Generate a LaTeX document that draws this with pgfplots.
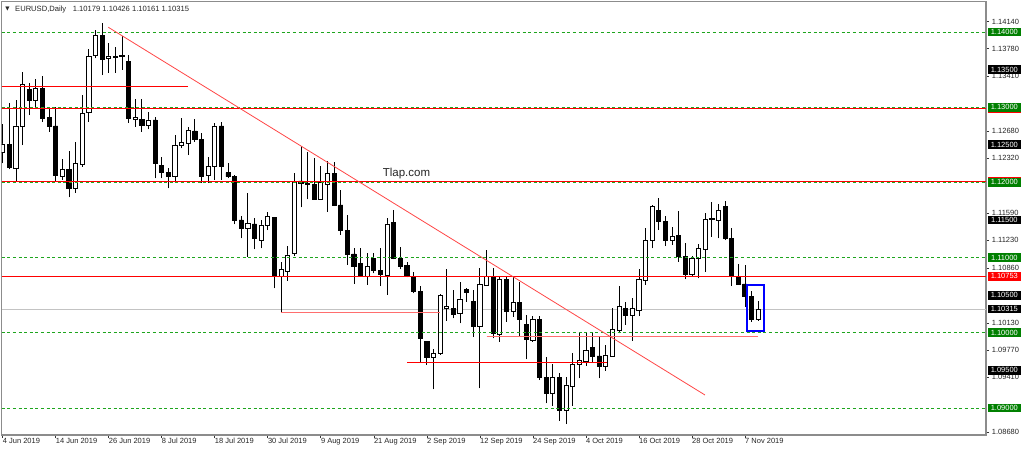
\documentclass[border=0pt]{standalone}
\usepackage{fontspec}
\setmainfont{Liberation Sans}
\newfontfamily\dejavu{DejaVu Sans}
\usepackage{pgfplots}
\pgfplotsset{compat=1.18}
\usepackage{pgfplotstable}

\definecolor{mtgreen}{RGB}{0,128,0}
\definecolor{lvlgreen}{RGB}{30,165,30}
\definecolor{framegray}{RGB}{140,140,140}
\definecolor{curgray}{RGB}{195,195,195}
\definecolor{trendred}{RGB}{255,70,70}
\definecolor{pinkred}{RGB}{255,110,110}

\pgfplotstableread{
i o h l c
0 1.12395 1.12777 1.12254 1.12511
1 1.12506 1.13060 1.12174 1.12196
2 1.12187 1.13096 1.12010 1.12750
3 1.12741 1.13473 1.12497 1.13304
4 1.13238 1.13317 1.12896 1.13096
5 1.13096 1.13371 1.12998 1.13251
6 1.13251 1.13415 1.12808 1.12852
7 1.12861 1.12985 1.12675 1.12741
8 1.12750 1.12998 1.12010 1.12098
9 1.12085 1.12307 1.12032 1.12174
10 1.12174 1.12422 1.11801 1.11921
11 1.11921 1.12542 1.11864 1.12254
12 1.12240 1.13162 1.12209 1.12918
13 1.12927 1.13770 1.12808 1.13672
14 1.13694 1.14027 1.13650 1.13960
15 1.13960 1.14115 1.13428 1.13637
16 1.13650 1.13849 1.13459 1.13681
17 1.13668 1.13805 1.13459 1.13676
18 1.13690 1.13947 1.13495 1.13672
19 1.13614 1.13694 1.12794 1.12852
20 1.12843 1.13105 1.12741 1.12861
21 1.12843 1.13105 1.12675 1.12763
22 1.12763 1.12941 1.12706 1.12830
23 1.12830 1.12874 1.12054 1.12254
24 1.12231 1.12342 1.12054 1.12129
25 1.12129 1.12187 1.11921 1.12076
26 1.12076 1.12630 1.12010 1.12497
27 1.12493 1.12852 1.12453 1.12528
28 1.12520 1.12741 1.12364 1.12688
29 1.12684 1.12839 1.12542 1.12573
30 1.12573 1.12653 1.11996 1.12085
31 1.12098 1.12333 1.11996 1.12218
32 1.12218 1.12794 1.12032 1.12750
33 1.12750 1.12808 1.12032 1.12209
34 1.12129 1.12254 1.12054 1.12076
35 1.12076 1.12098 1.11442 1.11500
36 1.11500 1.11553 1.11256 1.11389
37 1.11389 1.11864 1.11010 1.11456
38 1.11447 1.11522 1.11110 1.11256
39 1.11234 1.11500 1.11123 1.11434
40 1.11434 1.11611 1.11367 1.11544
41 1.11535 1.11544 1.10591 1.10746
42 1.10746 1.10946 1.10268 1.10844
43 1.10813 1.11154 1.10693 1.11035
44 1.11057 1.12121 1.11021 1.12010
45 1.12019 1.12484 1.11668 1.11988
46 1.11988 1.12409 1.11775 1.11974
47 1.11974 1.12320 1.11766 1.11779
48 1.11775 1.12218 1.11766 1.11996
49 1.11974 1.12289 1.11611 1.12121
50 1.12121 1.12276 1.11686 1.11700
51 1.11700 1.11899 1.11301 1.11367
52 1.11367 1.11567 1.10902 1.11048
53 1.11048 1.11123 1.10649 1.10879
54 1.10924 1.11123 1.10746 1.10755
55 1.10755 1.11057 1.10636 1.10879
56 1.10990 1.11057 1.10791 1.10826
57 1.10826 1.11123 1.10622 1.10782
58 1.10769 1.11522 1.10503 1.11447
59 1.11469 1.11633 1.10977 1.10990
60 1.10990 1.11145 1.10844 1.10888
61 1.10893 1.10946 1.10738 1.10755
62 1.10755 1.10813 1.10525 1.10547
63 1.10547 1.10622 1.09616 1.09926
64 1.09882 1.09895 1.09572 1.09674
65 1.09674 1.09780 1.09248 1.09727
66 1.09727 1.10516 1.09705 1.10494
67 1.10325 1.10844 1.10161 1.10348
68 1.10325 1.10569 1.10192 1.10246
69 1.10259 1.10671 1.10126 1.10450
70 1.10578 1.10591 1.10414 1.10543
71 1.10414 1.10569 1.09949 1.10090
72 1.10090 1.10866 1.09262 1.10645
73 1.10636 1.11101 1.10636 1.10746
74 1.10733 1.10857 1.09926 1.09993
75 1.09980 1.10746 1.09882 1.10711
76 1.10711 1.10746 1.10148 1.10281
77 1.10281 1.10746 1.10215 1.10401
78 1.10401 1.10680 1.09949 1.10179
79 1.10117 1.10237 1.09647 1.09913
80 1.09904 1.10223 1.09882 1.10179
81 1.10179 1.10223 1.09372 1.09408
82 1.09408 1.09674 1.09062 1.09195
83 1.09195 1.09585 1.09027 1.09408
84 1.09408 1.09470 1.08832 1.08973
85 1.08965 1.09417 1.08787 1.09306
86 1.09293 1.09736 1.09027 1.09585
87 1.09585 1.09993 1.09395 1.09629
88 1.09616 1.09993 1.09559 1.09762
89 1.09802 1.09993 1.09616 1.09692
90 1.09692 1.09957 1.09395 1.09559
91 1.09550 1.09838 1.09496 1.09705
92 1.09692 1.10325 1.09683 1.10046
93 1.10037 1.10622 1.09993 1.10348
94 1.10325 1.10414 1.10104 1.10237
95 1.10237 1.10458 1.09895 1.10325
96 1.10303 1.10844 1.10223 1.10711
97 1.10702 1.11389 1.10636 1.11234
98 1.11234 1.11700 1.11123 1.11686
99 1.11624 1.11788 1.11367 1.11478
100 1.11478 1.11553 1.11154 1.11234
101 1.11234 1.11411 1.11168 1.11287
102 1.11292 1.11624 1.10946 1.11021
103 1.11021 1.11190 1.10711 1.10782
104 1.10782 1.11021 1.10746 1.10990
105 1.10990 1.11181 1.10724 1.11123
106 1.11110 1.11589 1.10813 1.11509
107 1.11522 1.11744 1.11278 1.11509
108 1.11500 1.11713 1.11256 1.11624
109 1.11686 1.11757 1.11234 1.11256
110 1.11256 1.11389 1.10622 1.10746
111 1.10746 1.10915 1.10636 1.10649
112 1.10649 1.10902 1.10348 1.10489
113 1.10489 1.10556 1.10148 1.10179
114 1.10179 1.10426 1.10161 1.10315
}\candles

\tikzset{
  pbox/.style={anchor=west, inner sep=0pt, minimum width=33.7bp, minimum height=8.7bp,
    text=white, font=\fontsize{7.5bp}{9bp}\selectfont},
}

\begin{document}
\begin{tikzpicture}
\path[use as bounding box, fill=white] (0,0) rectangle (1024bp,452bp);
\begin{axis}[
  at={(1.7bp,17bp)}, anchor=south west,
  width=984.3bp, height=433.3bp, scale only axis,
  xmin=-0.151, xmax=148.36, ymin=1.08641, ymax=1.14403,
  axis line style={draw=framegray, line width=1.4bp},
  xtick={0,8,...,112},
  xticklabels={4 Jun 2019,14 Jun 2019,26 Jun 2019,8 Jul 2019,18 Jul 2019,30 Jul 2019,9 Aug 2019,21 Aug 2019,2 Sep 2019,12 Sep 2019,24 Sep 2019,4 Oct 2019,16 Oct 2019,28 Oct 2019,7 Nov 2019},
  ytick={1.0868,1.0941,1.0977,1.1013,1.1086,1.1123,1.1159,1.1232,1.1268,1.1341,1.1378,1.1414},
  yticklabels={1.08680,1.09410,1.09770,1.10130,1.10860,1.11230,1.11590,1.12320,1.12680,1.13410,1.13780,1.14140},
  xtick pos=bottom, ytick pos=right, yticklabel pos=right,
  tick align=outside, major tick length=3bp,
  tick style={draw=black!80, line width=0.7bp},
  xticklabel style={anchor=base west, inner sep=0pt, yshift=-5.9bp, text=black!85,
    font=\fontsize{7.5bp}{9bp}\selectfont},
  yticklabel style={anchor=west, inner sep=0pt, xshift=2.7bp, text=black!85,
    font=\fontsize{7.5bp}{9bp}\selectfont},
  clip=true,
]
% current price line
\addplot[curgray, line width=0.9bp] coordinates {(-0.151,1.10315) (148.36,1.10315)};

% candles
\pgfplotstablegetrowsof{\candles}
\pgfmathtruncatemacro{\nlast}{\pgfplotsretval-1}
\pgfplotsforeachungrouped \rowi in {0,...,\nlast}{%
  \pgfplotstablegetelem{\rowi}{i}\of\candles \let\cX\pgfplotsretval
  \pgfplotstablegetelem{\rowi}{o}\of\candles \let\cO\pgfplotsretval
  \pgfplotstablegetelem{\rowi}{h}\of\candles \let\cH\pgfplotsretval
  \pgfplotstablegetelem{\rowi}{l}\of\candles \let\cL\pgfplotsretval
  \pgfplotstablegetelem{\rowi}{c}\of\candles \let\cC\pgfplotsretval
  \ifdim\cC pt>\cO pt
    \let\cLo\cO \let\cHi\cC \def\cF{white}%
  \else
    \let\cLo\cC \let\cHi\cO \def\cF{black}%
  \fi
  \pgfmathsetmacro{\xa}{\cX-0.315}%
  \pgfmathsetmacro{\xb}{\cX+0.315}%
  \edef\doit{\noexpand\addplot[black, line width=0.9bp] coordinates {(\cX,\cL) (\cX,\cH)};
    \noexpand\addplot[draw=black, fill=\cF, line width=0.9bp, line join=miter]
    coordinates {(\xa,\cLo) (\xb,\cLo) (\xb,\cHi) (\xa,\cHi) (\xa,\cLo) (\xb,\cLo)};}%
  \doit
}

% green dashed round levels
\foreach \lv in {1.14,1.13,1.12,1.11,1.10,1.09}{
  \edef\doit{\noexpand\addplot[lvlgreen, line width=0.9bp, dash pattern=on 3bp off 2.6bp]
    coordinates {(-0.151,\lv) (148.36,\lv)};}
  \doit
}
% red full-width levels
\addplot[red, line width=0.9bp] coordinates {(-0.151,1.12985) (148.36,1.12985)};
\addplot[red, line width=0.9bp] coordinates {(-0.151,1.12015) (148.36,1.12015)};
\addplot[red, line width=0.9bp] coordinates {(-0.151,1.10753) (148.36,1.10753)};
% red segments
\addplot[red, line width=0.9bp] coordinates {(-0.151,1.13273) (27.96,1.13273)};
\addplot[pinkred, line width=1.5bp] coordinates {(42,1.10268) (66,1.10268)};
\addplot[red, line width=0.9bp] coordinates {(61,1.09603) (91.2,1.09603)};
\addplot[pinkred, line width=1.5bp] coordinates {(73,1.09949) (113.9,1.09949)};
% trend line
\addplot[trendred, line width=0.8bp] coordinates {(15.93,1.14063) (105.96,1.09173)};
% blue box
\addplot[blue, line width=1.9bp, line join=miter] coordinates {(112.34,1.10636) (114.86,1.10636) (114.86,1.10024) (112.34,1.10024) (112.34,1.10636) (114.86,1.10636)};

\node[anchor=base west, inner sep=0pt, text=black!85, font=\fontsize{11.5bp}{13bp}\selectfont]
  at (axis cs:57.33,1.12076) {Tlap.com};

\coordinate (b12990) at (axis cs:148.36,1.12985);
\coordinate (b12010) at (axis cs:148.36,1.12015);
\coordinate (b10753) at (axis cs:148.36,1.10753);
\coordinate (g14) at (axis cs:148.36,1.14);
\coordinate (g13) at (axis cs:148.36,1.13);
\coordinate (g12) at (axis cs:148.36,1.12);
\coordinate (g11) at (axis cs:148.36,1.11);
\coordinate (g10) at (axis cs:148.36,1.10);
\coordinate (g09) at (axis cs:148.36,1.09);
\coordinate (k135) at (axis cs:148.36,1.135);
\coordinate (k125) at (axis cs:148.36,1.125);
\coordinate (k115) at (axis cs:148.36,1.115);
\coordinate (k105) at (axis cs:148.36,1.105);
\coordinate (k095) at (axis cs:148.36,1.095);
\coordinate (kcur) at (axis cs:148.36,1.10315);
\end{axis}

% red level labels, mostly hidden behind the green ones
\node[pbox, fill=red] at ([xshift=1.3bp]b12990) {};
\node[pbox, fill=red] at ([xshift=1.3bp]b12010) {};
\node[pbox, fill=mtgreen] at ([xshift=1.3bp]g14) {1.14000};
\node[pbox, fill=mtgreen] at ([xshift=1.3bp]g13) {1.13000};
\node[pbox, fill=mtgreen] at ([xshift=1.3bp]g12) {1.12000};
\node[pbox, fill=mtgreen] at ([xshift=1.3bp]g11) {1.11000};
\node[pbox, fill=mtgreen] at ([xshift=1.3bp]g10) {1.10000};
\node[pbox, fill=mtgreen] at ([xshift=1.3bp]g09) {1.09000};
\node[pbox, fill=black] at ([xshift=1.3bp]k135) {1.13500};
\node[pbox, fill=black] at ([xshift=1.3bp]k125) {1.12500};
\node[pbox, fill=black] at ([xshift=1.3bp]k115) {1.11500};
\node[pbox, fill=black] at ([xshift=1.3bp]k105) {1.10500};
\node[pbox, fill=black] at ([xshift=1.3bp]k095) {1.09500};
\node[pbox, fill=black] at ([xshift=1.3bp]kcur) {1.10315};
\node[pbox, fill=red] at ([xshift=1.3bp]b10753) {1.10753};

% title
\node[inner sep=0pt, font=\dejavu\fontsize{5.5bp}{6bp}\selectfont, text=black!85] at (7.5bp,443bp) {▼};
\node[anchor=base west, inner sep=0pt, font=\fontsize{7.6bp}{9bp}\selectfont, text=black!85] at (15bp,440.3bp) {EURUSD,Daily};
\node[anchor=base west, inner sep=0pt, font=\fontsize{7.6bp}{9bp}\selectfont, text=black!85] at (72.7bp,440.3bp) {1.10179 1.10426 1.10161 1.10315};
\end{tikzpicture}
\end{document}
